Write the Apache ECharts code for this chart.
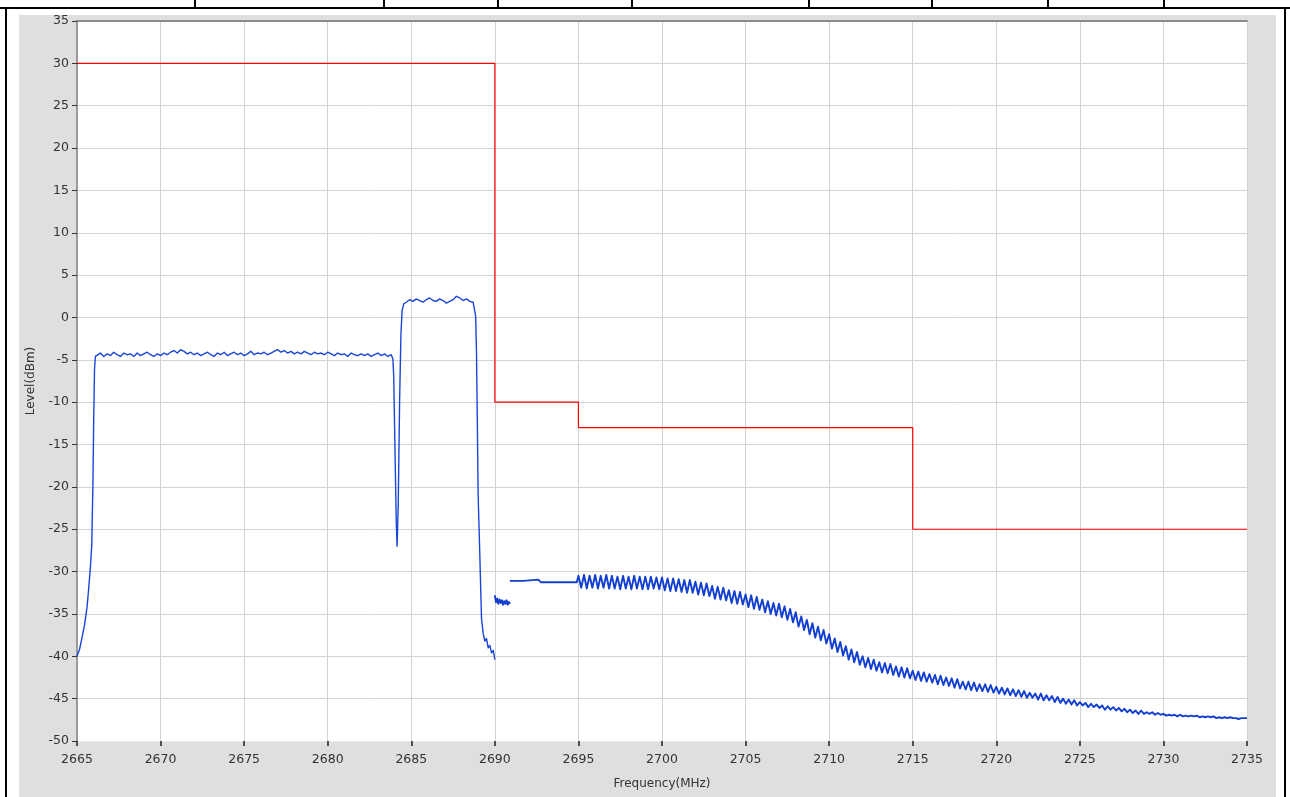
<!DOCTYPE html>
<html>
<head>
<meta charset="utf-8">
<script src="https://cdn.jsdelivr.net/npm/echarts@6/dist/echarts.min.js"></script>
<style>
  html, body { margin: 0; padding: 0; background: #ffffff; }
  #wrap { position: relative; width: 1290px; height: 797px; overflow: hidden; background: #fff; }
  .blk { position: absolute; background: #000; }
  #panel { position: absolute; left: 19px; top: 15px; width: 1257px; height: 782px; background: #dfdfdf; }
  #chart { position: absolute; left: 0; top: 0; width: 1290px; height: 797px; }
</style>
</head>
<body>
<div id="wrap">
  <div class="blk" style="left:0;top:7px;width:1290px;height:2px;"></div>
  <div class="blk" style="left:5px;top:7px;width:2px;height:790px;"></div>
  <div class="blk" style="left:1284px;top:7px;width:2px;height:790px;"></div>
  <div class="blk" style="left:194px;top:0;width:2px;height:8px;"></div>
  <div class="blk" style="left:383px;top:0;width:2px;height:8px;"></div>
  <div class="blk" style="left:497px;top:0;width:2px;height:8px;"></div>
  <div class="blk" style="left:631px;top:0;width:2px;height:8px;"></div>
  <div class="blk" style="left:808px;top:0;width:2px;height:8px;"></div>
  <div class="blk" style="left:931px;top:0;width:2px;height:8px;"></div>
  <div class="blk" style="left:1047px;top:0;width:2px;height:8px;"></div>
  <div class="blk" style="left:1163px;top:0;width:2px;height:8px;"></div>
  <div id="panel"></div>
  <div id="chart"></div>
</div>
<script>
// ---------- axis settings ----------
const xMin = 2665, xMax = 2735, xStep = 5;
const yMin = -50, yMax = 35, yStep = 5;

// ---------- limit mask (red) ----------
const maskFreq  = [2665, 2690, 2690, 2695, 2695, 2715, 2715, 2735];
const maskLevel = [30,   30,   -10,  -10,  -13,  -13,  -25,  -25];

// ---------- measured trace (blue) ----------
// rising edge of first carrier
const riseFreq  = [2665.0, 2665.15, 2665.3, 2665.45, 2665.6, 2665.7, 2665.8, 2665.88, 2665.95, 2666.0, 2666.05, 2666.1];
const riseLevel = [-40.0, -39.2, -37.8, -36.3, -34.2, -32.0, -29.5, -27.0, -20.0, -12.0, -6.0, -4.6];

// first carrier top, sweep from 2666.2 MHz, 0.2 MHz step
const top1Start = 2666.2, top1Step = 0.2;
const top1Level = [
  -4.5,-4.2,-4.6,-4.3,-4.5,-4.1,-4.4,-4.6,-4.2,-4.4,
  -4.3,-4.6,-4.2,-4.5,-4.3,-4.1,-4.4,-4.6,-4.3,-4.5,
  -4.2,-4.4,-4.1,-3.9,-4.2,-3.8,-4.0,-4.3,-4.1,-4.4,
  -4.2,-4.5,-4.3,-4.1,-4.4,-4.6,-4.2,-4.4,-4.1,-4.5,
  -4.3,-4.1,-4.4,-4.2,-4.5,-4.3,-4.0,-4.4,-4.2,-4.3,
  -4.1,-4.4,-4.2,-4.0,-3.8,-4.1,-3.9,-4.2,-4.0,-4.3,
  -4.1,-4.3,-4.0,-4.2,-4.4,-4.1,-4.3,-4.2,-4.4,-4.1,
  -4.3,-4.5,-4.2,-4.4,-4.3,-4.6,-4.2,-4.4,-4.5,-4.3,
  -4.5,-4.3,-4.6,-4.4,-4.2,-4.5,-4.3,-4.6,-4.4
];

// notch between carriers
const notchFreq  = [2683.9, 2683.95, 2684.02, 2684.1, 2684.15, 2684.22, 2684.3, 2684.38, 2684.45, 2684.55];
const notchLevel = [-4.9, -7.0, -15.0, -24.0, -27.0, -22.0, -10.0, -2.0, 0.8, 1.6];

// second carrier top, sweep from 2684.7 MHz, 0.2 MHz step
const top2Start = 2684.7, top2Step = 0.2;
const top2Level = [1.8,2.1,1.9,2.2,2.0,1.8,2.1,2.3,2.0,1.9,2.2,2.0,1.7,1.9,2.1,2.5,2.3,2.0,2.2,1.9,1.8];

// falling edge of second carrier
const fallFreq  = [2688.8, 2688.85, 2688.9, 2688.95, 2689.0, 2689.1, 2689.2, 2689.3, 2689.4, 2689.5, 2689.6, 2689.7, 2689.8, 2689.9, 2690.0];
const fallLevel = [1.6, 0.2, -4.0, -12.0, -21.0, -28.0, -35.5, -37.3, -38.2, -37.9, -39.0, -38.7, -39.6, -39.3, -40.4];

// short noisy piece right after 2690 MHz
const blobFreq  = [2690.0, 2690.07, 2690.14, 2690.21, 2690.28, 2690.35, 2690.42, 2690.49, 2690.56, 2690.63, 2690.7, 2690.77, 2690.84, 2690.91];
const blobLevel = [-32.8, -33.6, -33.2, -33.8, -33.3, -33.7, -33.4, -33.9, -33.5, -33.8, -33.4, -33.9, -33.6, -33.8];

// flat piece before 2695 MHz
const flatFreq  = [2690.9, 2691.7, 2691.8, 2692.6, 2692.75, 2694.9];
const flatLevel = [-31.1, -31.1, -30.95, -30.95, -31.25, -31.25];

// out-of-band tail, sweep from 2695 MHz, 6 samples per MHz (one row per MHz)
const tailStart = 2695.0, tailPerMHz = 6;
const tailLevel = [
  -30.5,-31.9,-30.4,-32.0,-30.5,-31.9,   // 2695
  -30.4,-32.0,-30.5,-31.9,-30.4,-32.0,   // 2696
  -30.5,-32.0,-30.6,-32.1,-30.5,-32.0,   // 2697
  -30.6,-32.1,-30.5,-32.0,-30.6,-32.1,   // 2698
  -30.6,-32.1,-30.6,-32.0,-30.7,-32.1,   // 2699
  -30.7,-32.2,-30.8,-32.3,-30.8,-32.3,   // 2700
  -30.9,-32.4,-31.0,-32.5,-31.0,-32.5,   // 2701
  -31.2,-32.7,-31.3,-32.8,-31.4,-32.9,   // 2702
  -31.7,-33.2,-31.8,-33.3,-31.9,-33.4,   // 2703
  -32.2,-33.7,-32.3,-33.8,-32.4,-33.9,   // 2704
  -32.7,-34.2,-32.8,-34.4,-33.0,-34.5,   // 2705
  -33.3,-34.8,-33.5,-35.0,-33.7,-35.2,   // 2706
  -33.8,-35.4,-34.1,-35.7,-34.4,-36.0,   // 2707
  -34.8,-36.5,-35.3,-36.9,-35.7,-37.4,   // 2708
  -36.1,-37.8,-36.5,-38.1,-36.9,-38.5,   // 2709
  -37.4,-39.1,-37.9,-39.5,-38.3,-39.9,   // 2710
  -38.8,-40.4,-39.2,-40.7,-39.5,-41.0,   // 2711
  -40.0,-41.3,-40.2,-41.5,-40.4,-41.7,   // 2712
  -40.7,-41.9,-40.8,-42.0,-40.9,-42.2,   // 2713
  -41.2,-42.4,-41.3,-42.5,-41.4,-42.6,   // 2714
  -41.7,-42.8,-41.8,-42.9,-41.9,-43.0,   // 2715
  -42.1,-43.1,-42.2,-43.3,-42.3,-43.4,   // 2716
  -42.5,-43.5,-42.6,-43.7,-42.7,-43.8,   // 2717
  -43.0,-43.9,-43.0,-44.0,-43.1,-44.1,   // 2718
  -43.3,-44.1,-43.3,-44.2,-43.4,-44.3,   // 2719
  -43.6,-44.4,-43.7,-44.5,-43.8,-44.6,   // 2720
  -43.9,-44.7,-44.0,-44.8,-44.1,-44.9,   // 2721
  -44.3,-44.9,-44.4,-45.1,-44.4,-45.2,   // 2722
  -44.6,-45.2,-44.7,-45.4,-44.8,-45.5,   // 2723
  -45.0,-45.6,-45.1,-45.7,-45.2,-45.8,   // 2724
  -45.4,-45.8,-45.5,-46.0,-45.6,-46.0,   // 2725
  -45.7,-46.1,-45.8,-46.3,-45.9,-46.3,   // 2726
  -46.0,-46.4,-46.1,-46.5,-46.2,-46.6,   // 2727
  -46.3,-46.7,-46.4,-46.8,-46.4,-46.8,   // 2728
  -46.6,-46.8,-46.6,-46.9,-46.7,-46.9,   // 2729
  -46.8,-47.0,-46.9,-47.0,-46.9,-47.1,   // 2730
  -46.9,-47.1,-47.0,-47.1,-47.0,-47.1,   // 2731
  -47.0,-47.2,-47.1,-47.2,-47.1,-47.2,   // 2732
  -47.1,-47.3,-47.2,-47.3,-47.2,-47.3,   // 2733
  -47.2,-47.3,-47.3,-47.4,-47.3,-47.3,   // 2734
  -47.3                                  // 2735
];

// ---------- build series data ----------
function pairs(fs, ls) { return fs.map((f, i) => [f, ls[i]]); }
function sweep(start, step, ls) { return ls.map((l, i) => [+(start + i * step).toFixed(4), l]); }

const mainData = [].concat(
  pairs(riseFreq, riseLevel),
  sweep(top1Start, top1Step, top1Level),
  pairs(notchFreq, notchLevel),
  sweep(top2Start, top2Step, top2Level),
  pairs(fallFreq, fallLevel)
);
const blobData = pairs(blobFreq, blobLevel);
const tailData = [].concat(pairs(flatFreq, flatLevel), sweep(tailStart, 1 / tailPerMHz, tailLevel));
const maskData = pairs(maskFreq, maskLevel);

const FONT = 'DejaVu Sans';
const blue = '#1a46d6';
const chart = echarts.init(document.getElementById('chart'), null, { renderer: 'canvas' });
const traceStyle = (w, c) => ({ type: 'line', showSymbol: false, symbol: 'none', silent: true, lineStyle: { color: c, width: w, join: 'round' }, itemStyle: { color: c }, z: 3 });

chart.setOption({
  animation: false,
  grid: { left: 77, right: 43, top: 21, bottom: 56, show: true, backgroundColor: '#ffffff', borderWidth: 0 },
  xAxis: [{
    type: 'value', min: xMin, max: xMax, interval: xStep, position: 'bottom',
    name: 'Frequency(MHz)', nameLocation: 'middle', nameGap: 37,
    nameTextStyle: { fontFamily: FONT, fontSize: 12, color: '#333' },
    axisLine: { show: true, onZero: false, lineStyle: { color: '#e8e8e8', width: 1 } },
    axisTick: { show: true, length: 5, lineStyle: { color: '#222', width: 1.5 } },
    axisLabel: { fontFamily: FONT, fontSize: 12.5, color: '#333', margin: 12, formatter: (v) => String(v) },
    splitLine: { show: true, lineStyle: { color: '#d3d3d3', width: 1 } }
  }, {
    type: 'value', min: xMin, max: xMax, position: 'top',
    axisLine: { show: true, onZero: false, lineStyle: { color: '#8c8c8c', width: 2 } },
    axisTick: { show: false }, axisLabel: { show: false }, splitLine: { show: false }
  }],
  yAxis: {
    type: 'value', min: yMin, max: yMax, interval: yStep,
    name: 'Level(dBm)', nameLocation: 'middle', nameGap: 40,
    nameTextStyle: { fontFamily: FONT, fontSize: 12, color: '#333' },
    axisLine: { show: true, onZero: false, lineStyle: { color: '#9a9a9a', width: 2 } },
    axisTick: { show: true, length: 5, lineStyle: { color: '#333', width: 1 } },
    axisLabel: { fontFamily: FONT, fontSize: 12.5, color: '#333', margin: 8 },
    splitLine: { show: true, lineStyle: { color: '#d3d3d3', width: 1 } }
  },
  series: [
    { type: 'line', data: maskData, showSymbol: false, symbol: 'none', silent: true,
      lineStyle: { color: '#ff0000', width: 1.2 }, itemStyle: { color: '#ff0000' }, z: 2 },
    Object.assign(traceStyle(1.4, blue), { data: mainData }),
    Object.assign(traceStyle(2.0, '#123fd0'), { data: blobData }),
    Object.assign(traceStyle(1.9, '#123fd0'), { data: tailData })
  ]
});
</script>
</body>
</html>
